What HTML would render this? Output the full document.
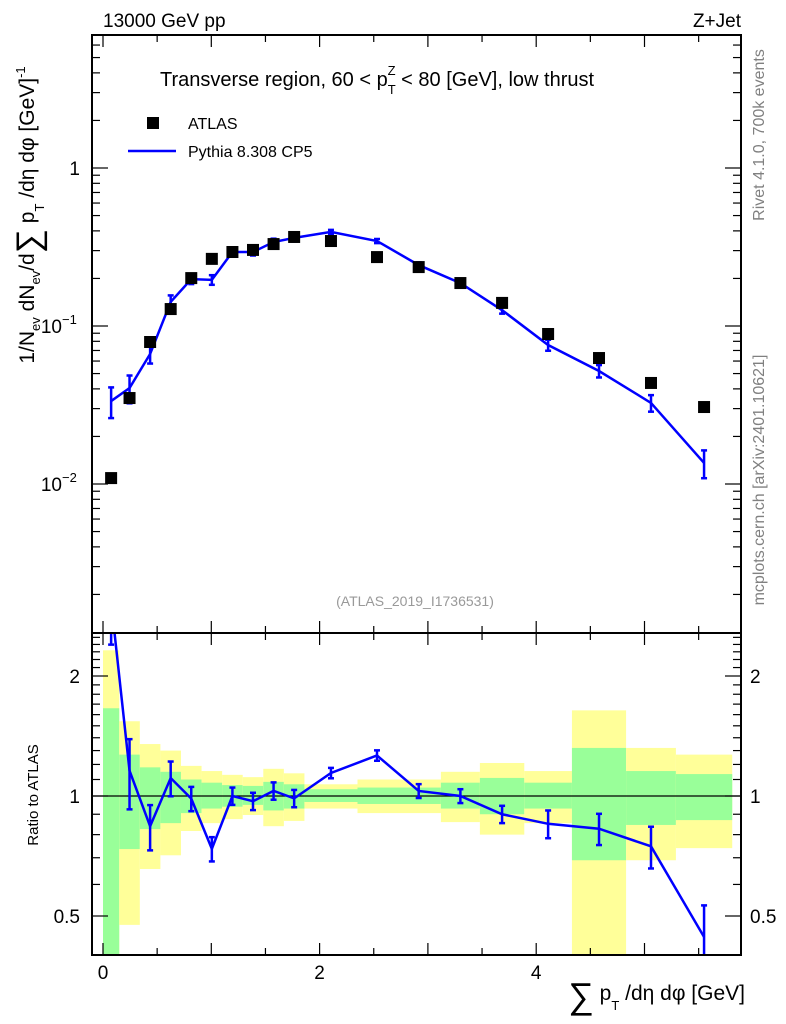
<!DOCTYPE html>
<html><head><meta charset="utf-8">
<style>
body{margin:0;background:#fff;}
svg{display:block;font-family:"Liberation Sans",sans-serif;}
</style></head>
<body>
<svg id="chart" width="786" height="1024" viewBox="0 0 786 1024" xmlns="http://www.w3.org/2000/svg">
<g id="bands"></g>
<g id="marks"></g>
<g id="axes"></g>
<text x="103" y="27" font-size="19">13000 GeV pp</text>
<text x="741" y="27" font-size="19" text-anchor="end">Z+Jet</text>
<text x="160" y="86" font-size="20">Transverse region, 60 &lt; p<tspan font-size="13" dy="8">T</tspan><tspan font-size="13" dx="-8" dy="-19">Z</tspan><tspan dy="11"> &lt; 80 [GeV], low thrust</tspan></text>
<rect x="147" y="117" width="12" height="12" fill="#000"/>
<text x="188" y="129" font-size="16">ATLAS</text>
<line x1="128" y1="151" x2="176" y2="151" stroke="#0000ff" stroke-width="2.5"/>
<text x="188" y="157" font-size="16">Pythia 8.308 CP5</text>
<text x="415" y="606" font-size="14" fill="#999" text-anchor="middle">(ATLAS_2019_I1736531)</text>
<text transform="translate(764,135) rotate(-90)" font-size="16" fill="#808080" text-anchor="middle">Rivet 4.1.0,  700k events</text>
<text transform="translate(764,480) rotate(-90)" font-size="16" fill="#808080" text-anchor="middle">mcplots.cern.ch [arXiv:2401.10621]</text>
<text transform="translate(34,215) rotate(-90)" font-size="21" text-anchor="middle">1/N<tspan font-size="13" dy="6">ev</tspan><tspan dy="-6"> dN</tspan><tspan font-size="13" dy="6">ev</tspan><tspan dy="-6">/d</tspan><tspan font-size="34" dy="6">∑</tspan><tspan dy="-6"> p</tspan><tspan font-size="13" dy="10">T</tspan><tspan dy="-10"> /dη dφ  [GeV]</tspan><tspan font-size="13" dy="-9">-1</tspan></text>
<text transform="translate(38,795) rotate(-90)" font-size="15" text-anchor="middle">Ratio to ATLAS</text>
<text x="745" y="1000" font-size="21" text-anchor="end"><tspan font-size="36" dy="8">∑</tspan><tspan dy="-8"> p</tspan><tspan font-size="13" dy="10">T</tspan><tspan dy="-10"> /dη dφ [GeV]</tspan></text>
</svg>
<script>
const edges=[0,0.15,0.34,0.53,0.72,0.91,1.1,1.29,1.48,1.67,1.86,2.35,2.71,3.12,3.48,3.89,4.33,4.83,5.29,5.81];
const dataVals=[0.0109,0.035,0.0792,0.128,0.201,0.266,0.294,0.303,0.330,0.366,0.345,0.273,0.236,0.187,0.140,0.089,0.0627,0.0436,0.0307];
const mcVals=[0.0335,0.0405,0.0665,0.142,0.198,0.196,0.294,0.294,0.340,0.361,0.394,0.345,0.243,0.187,0.126,0.0758,0.0519,0.0326,0.0136];
const mcRelErr=[0.22,0.2,0.13,0.1,0.07,0.07,0.05,0.05,0.05,0.05,0.03,0.03,0.04,0.04,0.05,0.08,0.09,0.12,0.2];
const statUp=[1.66,1.27,1.18,1.15,1.10,1.08,1.065,1.06,1.085,1.07,1.04,1.05,1.05,1.08,1.11,1.08,1.32,1.155,1.135];
const statDn=[0.3,0.736,0.826,0.855,0.906,0.93,0.94,0.95,0.92,0.93,0.966,0.955,0.955,0.93,0.90,0.93,0.69,0.846,0.87];
const totUp=[2.32,1.54,1.35,1.30,1.19,1.155,1.13,1.115,1.17,1.14,1.07,1.10,1.10,1.15,1.21,1.155,1.64,1.32,1.27];
const totDn=[0.3,0.475,0.656,0.71,0.817,0.855,0.875,0.896,0.84,0.866,0.93,0.906,0.906,0.86,0.80,0.855,0.3,0.69,0.74];
const xTickLabels=["0","2","4"];

const L=92,R=741,T=35,MB=633,B=955;
const X=v=>103+v*108.3;
const Y=v=>168-158*Math.log10(v);
const RY=v=>796-120*Math.log2(v);
const NS="http://www.w3.org/2000/svg";
function mk(parent,tag,attrs){const e=document.createElementNS(NS,tag);for(const k in attrs)e.setAttribute(k,attrs[k]);document.getElementById(parent).appendChild(e);return e;}
const cRY=v=>Math.max(MB,Math.min(B,RY(v)));
const n=dataVals.length;
for(let i=0;i<n;i++){
  const x0=X(edges[i]),x1=X(edges[i+1]);
  let e=mk('bands','rect',{x:x0,y:cRY(totUp[i]),width:x1-x0,height:cRY(totDn[i])-cRY(totUp[i]),fill:'#ffff99'});
  
  
  e=mk('bands','rect',{x:x0,y:cRY(statUp[i]),width:x1-x0,height:cRY(statDn[i])-cRY(statUp[i]),fill:'#99ff99'});
  
  
}
let ul=mk('bands','line',{x1:L,x2:R,y1:RY(1),y2:RY(1),stroke:'#000','stroke-width':1.2});


const cx=i=>X((edges[i]+edges[i+1])/2);
let pts=mcVals.map((v,i)=>cx(i)+','+Y(v)).join(' ');
let pl=mk('marks','polyline',{points:pts,fill:'none',stroke:'#0000ff','stroke-width':2.5});


mk('marks','clipPath',{id:'rc'});
const cp=document.getElementById('rc');const cr=document.createElementNS(NS,'rect');
cr.setAttribute('x',L);cr.setAttribute('y',MB);cr.setAttribute('width',R-L);cr.setAttribute('height',B-MB);cp.appendChild(cr);
let rpts=mcVals.map((v,i)=>cx(i)+','+RY(v/dataVals[i])).join(' ');
let rl=mk('marks','polyline',{points:rpts,fill:'none',stroke:'#0000ff','stroke-width':2.5,'clip-path':'url(#rc)'});


function ebar(x,y1,y2,name){
  const g=mk('marks','g',{stroke:'#0000ff','stroke-width':2.5,'clip-path':'url(#rc)'});
  if(name.startsWith('mc-err'))g.removeAttribute('clip-path');
  
  
  [[x,y1,x,y2],[x-3,y1,x+3,y1],[x-3,y2,x+3,y2]].forEach(a=>{const l=document.createElementNS(NS,'line');l.setAttribute('x1',a[0]);l.setAttribute('y1',a[1]);l.setAttribute('x2',a[2]);l.setAttribute('y2',a[3]);g.appendChild(l);});
}
for(let i=0;i<n;i++){
  const x=cx(i);
  ebar(x,Y(mcVals[i]*(1+mcRelErr[i])),Y(mcVals[i]*(1-mcRelErr[i])),'mc-err-'+i);
  const r=mcVals[i]/dataVals[i];
  ebar(x,RY(r*(1+mcRelErr[i])),RY(r*(1-mcRelErr[i])),'ratio-err-'+i);
  const s=mk('marks','rect',{x:x-6,y:Y(dataVals[i])-6,width:12,height:12,fill:'#000'});
  
  
}
[[T,MB],[MB,B]].forEach((p,k)=>{const f=mk('axes','rect',{x:L,y:p[0],width:R-L,height:p[1]-p[0],fill:'none',stroke:'#000','stroke-width':2});

});
function tk(x1,y1,x2,y2){const l=mk('axes','line',{x1,y1,x2,y2,stroke:'#000','stroke-width':1.2});}
for(let v=0;v<=5.8;v+=0.5){const x=X(v);const len=Math.abs(v-Math.round(v))<0.01?12:7;
  [[T,1],[MB,1],[MB,-1],[B,-1]].forEach(([y,d])=>tk(x,y,x,y+d*len));}
xTickLabels.forEach(s=>{const t=mk('axes','text',{x:X(+s),y:979,'font-size':19,'text-anchor':'middle'});t.textContent=s;
});
for(let d=-3;d<=0;d++)for(let m=1;m<10;m++){const v=m*Math.pow(10,d);const y=Y(v);if(y<T||y>MB)continue;const len=m==1?16:8;tk(L,y,L+len,y);tk(R,y,R-len,y);}
[['1',1,''],['10',0.1,'−1'],['10',0.01,'−2']].forEach(([b,v,e])=>{const t=mk('axes','text',{x:e?62:80,y:Y(v)+7,'font-size':19,'text-anchor':'end'});
t.textContent=b;
if(e){const s=mk('axes','text',{x:62,y:Y(v)-2,'font-size':13});s.textContent=e;}});
for(let v=0.4;v<=2.6;v+=0.1){const y=RY(v);if(y<MB||y>B)continue;const maj=[0.5,1,2].some(m=>Math.abs(m-v)<0.01);const len=maj?16:8;tk(L,y,L+len,y);tk(R,y,R-len,y);}
[['2',2],['1',1],['0.5',0.5]].forEach(([s,v])=>{let t=mk('axes','text',{x:80,y:RY(v)+7,'font-size':19,'text-anchor':'end'});t.textContent=s;
t=mk('axes','text',{x:750,y:RY(v)+7,'font-size':19});t.textContent=s;});
</script>
</body></html>
